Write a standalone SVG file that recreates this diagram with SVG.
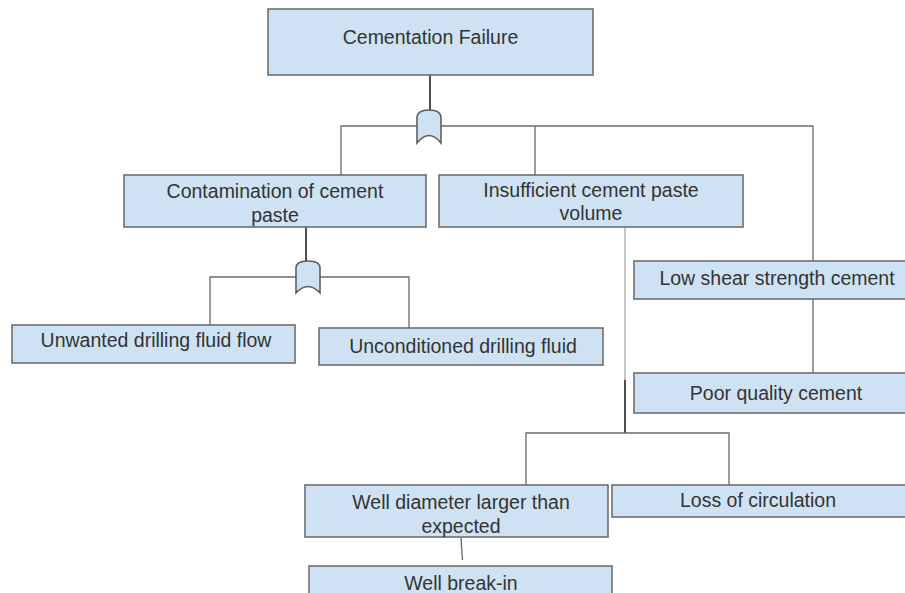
<svg xmlns="http://www.w3.org/2000/svg" width="905" height="593" viewBox="0 0 905 593">
<style>
.box{fill:#cfe2f3;stroke:#6f6f6f;stroke-width:1.6}
.gate{fill:#cfe2f3;stroke:#5f5f5f;stroke-width:1.6}
.t{font-family:"Liberation Sans",Arial,sans-serif;font-size:19.5px;fill:#333333;text-anchor:middle}
.c{fill:none;stroke:#6a6a6a;stroke-width:1.3}
.cd{fill:none;stroke:#3a3a3a;stroke-width:1.8}
.cl{fill:none;stroke:#a0a0a0;stroke-width:1.2}
</style>
<rect width="905" height="593" fill="#ffffff"/>
<g id="connectors">
<line class="cd" x1="430" y1="75" x2="430" y2="111"/>
<polyline class="c" points="341,175 341,126 813,126 813,261"/>
<line class="c" x1="535" y1="126" x2="535" y2="175"/>
<line class="cd" x1="306" y1="227" x2="306" y2="262"/>
<polyline class="c" points="210,325 210,277 409,277 409,328"/>
<line class="c" x1="813" y1="299" x2="813" y2="373"/>
<line class="cl" x1="625" y1="227" x2="625" y2="380"/>
<line class="cd" x1="625" y1="380" x2="625" y2="433"/>
<polyline class="c" points="526,485 526,433 729,433 729,485"/>
<line class="c" x1="461" y1="538" x2="462.5" y2="560"/>
</g>
<g id="gate-or-1">
<path class="gate" d="M417,143 L417,118 Q417,110 429,110 Q441,110 441,118 L441,143 Q429,128 417,143 Z"/>
</g>
<g id="gate-or-2">
<path class="gate" d="M296,293 L296,268 Q296,261 308,261 Q320,261 320,268 L320,293 Q308,280 296,293 Z"/>
</g>
<g id="node-cementation-failure">
<rect class="box" x="268" y="9" width="325" height="66"/>
<text class="t" x="430.5" y="44">Cementation Failure</text>
</g>
<g id="node-contamination">
<rect class="box" x="124" y="175" width="302" height="52"/>
<text class="t" x="275" y="198">Contamination of cement</text>
<text class="t" x="275" y="222">paste</text>
</g>
<g id="node-insufficient">
<rect class="box" x="439" y="175" width="304" height="52"/>
<text class="t" x="591" y="197">Insufficient cement paste</text>
<text class="t" x="591" y="220">volume</text>
</g>
<g id="node-unwanted">
<rect class="box" x="12" y="325" width="283" height="38"/>
<text class="t" x="156" y="347">Unwanted drilling fluid flow</text>
</g>
<g id="node-unconditioned">
<rect class="box" x="319" y="328" width="284" height="37"/>
<text class="t" x="463" y="353">Unconditioned drilling fluid</text>
</g>
<g id="node-low-shear">
<rect class="box" x="634" y="261" width="290" height="38"/>
<text class="t" x="777" y="285">Low shear strength cement</text>
</g>
<g id="node-poor-quality">
<rect class="box" x="634" y="373" width="290" height="40"/>
<text class="t" x="776" y="400">Poor quality cement</text>
</g>
<g id="node-well-diameter">
<rect class="box" x="305" y="485" width="303" height="52"/>
<text class="t" x="461" y="509">Well diameter larger than</text>
<text class="t" x="461" y="533">expected</text>
</g>
<g id="node-loss-circulation">
<rect class="box" x="612" y="485" width="300" height="32"/>
<text class="t" x="758" y="507">Loss of circulation</text>
</g>
<g id="node-well-break-in">
<rect class="box" x="309" y="566" width="303" height="40"/>
<text class="t" x="461" y="590">Well break-in</text>
</g>
</svg>
